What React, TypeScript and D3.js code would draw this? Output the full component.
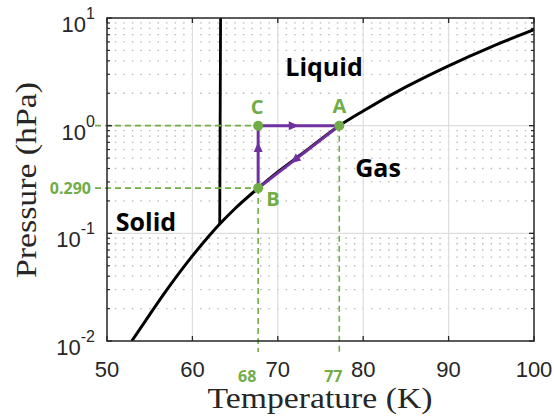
import * as d3 from "d3";

// N2-like phase diagram
const coexT = [52.9, 55, 57, 60, 62.3, 63.2, 65, 67.7, 70, 73, 77.2, 80, 85, 90, 95, 100];
const coexP = [0.01, 0.0176, 0.0298, 0.0617, 0.102, 0.122, 0.17, 0.263, 0.372, 0.56, 1.0, 1.37, 2.29, 3.6, 5.4, 7.78];
const meltT = [63.2, 63.3];
const meltP = [0.122, 10];

const cycleNames = ["B", "C", "A"];
const cycleT = [67.7, 67.7, 77.2];
const cycleP = [0.263, 1.0, 1.0];

const xTicks = [50, 60, 70, 80, 90, 100];
const yExps = [-2, -1, 0, 1];

const W = 554;
const H = 416;
const m = { left: 107, right: 20, top: 18, bottom: 75 };

const green = "#70ad47";
const purple = "#7030a0";
const axisCol = "#262626";

export default function App() {
  const x = d3.scaleLinear().domain([50, 100]).range([m.left, W - m.right]);
  const y = d3.scaleLog().domain([0.01, 10]).range([H - m.bottom, m.top]);
  const x0 = m.left, x1 = W - m.right, y0 = H - m.bottom, y1 = m.top;

  const line = d3.line<[number, number]>().x(d => x(d[0])).y(d => y(d[1])).curve(d3.curveMonotoneX);
  const coex = line(coexT.map((t, i) => [t, coexP[i]]));
  const melt = d3.line<[number, number]>().x(d => x(d[0])).y(d => y(d[1]))(meltT.map((t, i) => [t, meltP[i]]));

  const minorY: number[] = [];
  for (let e = -2; e < 1; e++) for (let k = 2; k <= 9; k++) minorY.push(k * Math.pow(10, e));
  const unit = x(51) - x(50);

  const pts = cycleNames.map((n, i) => ({ n, px: x(cycleT[i]), py: y(cycleP[i]) }));
  const B = pts[0], C = pts[1], A = pts[2];

  const arrow = (p: any, q: any, f: number, key: string) => {
    const tx = p.px + (q.px - p.px) * f, ty = p.py + (q.py - p.py) * f;
    const ang = Math.atan2(q.py - p.py, q.px - p.px) * 180 / Math.PI;
    return (
      <path key={key} d="M0,0 L-10,-4.5 L-10,4.5 Z" fill={purple}
        transform={`translate(${tx},${ty}) rotate(${ang})`} />
    );
  };

  return (
    <svg width={W} height={H} style={{ position: "absolute", left: 0, top: 0, background: "#fff" }}>
      <defs>
        <clipPath id="plot"><rect x={x0} y={y1} width={x1 - x0} height={y0 - y1} /></clipPath>
      </defs>

      {/* grid */}
      {minorY.map(v => (
        <line key={"mg" + v} x1={x0} x2={x1} y1={y(v)} y2={y(v)} stroke="#b8b8b8"
          strokeWidth={1.3} strokeDasharray={`1.5 ${unit - 1.5}`} strokeDashoffset={0.75} />
      ))}
      {yExps.slice(1, -1).map(e => (
        <line key={"gy" + e} x1={x0} x2={x1} y1={y(Math.pow(10, e))} y2={y(Math.pow(10, e))} stroke="#dedede" strokeWidth={1.2} />
      ))}
      {xTicks.slice(1, -1).map(t => (
        <line key={"gx" + t} x1={x(t)} x2={x(t)} y1={y0} y2={y1} stroke="#dedede" strokeWidth={1.2} />
      ))}

      {/* curves */}
      <g clipPath="url(#plot)">
        <path d={coex!} fill="none" stroke="#000" strokeWidth={3} />
        <path d={melt!} fill="none" stroke="#000" strokeWidth={2.8} />
      </g>

      {/* dashed guides */}
      <line x1={95} x2={C.px} y1={C.py} y2={C.py} stroke={green} strokeWidth={1.6} strokeDasharray="6 4" />
      <line x1={95} x2={B.px} y1={B.py} y2={B.py} stroke={green} strokeWidth={1.6} strokeDasharray="6 4" />
      <line x1={B.px} x2={B.px} y1={B.py} y2={352} stroke={green} strokeWidth={1.6} strokeDasharray="6 4" />
      <line x1={A.px} x2={A.px} y1={A.py} y2={353} stroke={green} strokeWidth={1.6} strokeDasharray="6 4" />

      {/* cycle */}
      <path d={`M${B.px},${B.py} L${C.px},${C.py} L${A.px},${A.py} Z`} fill="none" stroke={purple} strokeWidth={3} strokeLinejoin="round" />
      {arrow(B, C, 0.74, "bc")}
      {arrow(C, A, 0.5, "ca")}
      {arrow(A, B, 0.6, "ab")}
      {pts.map(p => <circle key={p.n} cx={p.px} cy={p.py} r={5} fill={green} />)}

      {/* axes box and ticks */}
      <rect x={x0} y={y1} width={x1 - x0} height={y0 - y1} fill="none" stroke={axisCol} strokeWidth={1.5} />
      {xTicks.map(t => (
        <g key={"xt" + t}>
          <line x1={x(t)} x2={x(t)} y1={y0} y2={y0 - 5} stroke={axisCol} strokeWidth={1.3} />
          <line x1={x(t)} x2={x(t)} y1={y1} y2={y1 + 5} stroke={axisCol} strokeWidth={1.3} />
          <text x={x(t)} y={y0 + 36} textAnchor="middle" fontFamily="Liberation Sans, Arial" fontSize={22} fill={axisCol}>{t}</text>
        </g>
      ))}
      {minorY.map(v => (
        <g key={"myt" + v}>
          <line x1={x0} x2={x0 + 3} y1={y(v)} y2={y(v)} stroke={axisCol} strokeWidth={1.2} />
          <line x1={x1} x2={x1 - 3} y1={y(v)} y2={y(v)} stroke={axisCol} strokeWidth={1.2} />
        </g>
      ))}
      {yExps.map(e => (
        <g key={"yt" + e}>
          <line x1={x0} x2={x0 + 5} y1={y(Math.pow(10, e))} y2={y(Math.pow(10, e))} stroke={axisCol} strokeWidth={1.3} />
          <line x1={x1} x2={x1 - 5} y1={y(Math.pow(10, e))} y2={y(Math.pow(10, e))} stroke={axisCol} strokeWidth={1.3} />
          <text x={95} y={y(Math.pow(10, e)) + 14} textAnchor="end" fontFamily="Liberation Sans, Arial" fontSize={22} fill={axisCol}>
            10<tspan dy={-13} fontSize={16}>{e}</tspan>
          </text>
        </g>
      ))}

      {/* axis labels */}
      <text x={320} y={408} textAnchor="middle" fontFamily="Liberation Serif, serif" fontSize={30} fill={axisCol}
        textLength={225} lengthAdjust="spacingAndGlyphs">Temperature (K)</text>
      <text transform={`translate(36,180) rotate(-90)`} textAnchor="middle" fontFamily="Liberation Serif, serif" fontSize={30} fill={axisCol}
        textLength={196} lengthAdjust="spacingAndGlyphs">Pressure (hPa)</text>

      {/* annotations */}
      <g fontFamily="Open Sans, sans-serif" fontWeight={700}>
        <text x={C.px - 1} y={C.py - 12} textAnchor="middle" fontSize={20} fill={green}>C</text>
        <text x={A.px} y={A.py - 13} textAnchor="middle" fontSize={20} fill={green}>A</text>
        <text x={B.px + 8} y={B.py + 18} fontSize={20} fill={green}>B</text>
        <text x={91} y={B.py + 6} textAnchor="end" fontSize={16} fill={green}>0.290</text>
        <text x={B.px - 11} y={382} textAnchor="middle" fontSize={16} fill={green}>68</text>
        <text x={A.px - 6} y={382} textAnchor="middle" fontSize={16} fill={green}>77</text>
        <text x={324} y={76} textAnchor="middle" fontSize={25} fill="#000">Liquid</text>
        <text x={378} y={177} textAnchor="middle" fontSize={25} fill="#000">Gas</text>
        <text x={146} y={231} textAnchor="middle" fontSize={25} fill="#000">Solid</text>
      </g>
    </svg>
  );
}
